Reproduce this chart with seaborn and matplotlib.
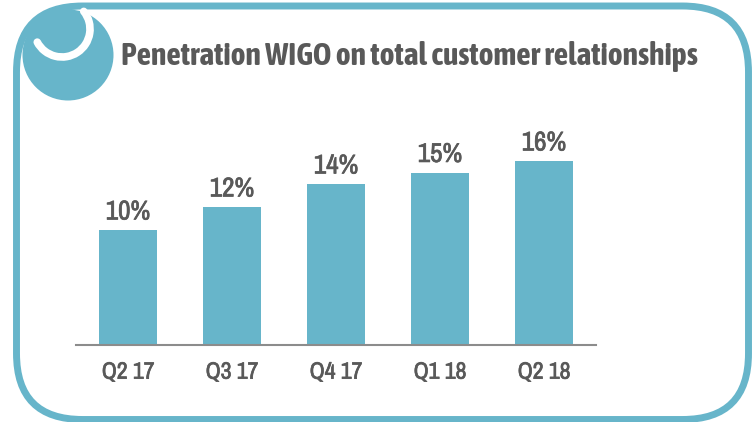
import pandas as pd
import matplotlib.pyplot as plt
import matplotlib.patheffects as pe
import seaborn as sns
from matplotlib.patches import Arc, Circle, FancyBboxPatch

quarters = ["Q2 17", "Q3 17", "Q4 17", "Q1 18", "Q2 18"]
penetration = [10, 12, 14, 15, 16]

TEAL = "#67b5ca"
GREY = "#595959"
W, H = 756, 422

sns.set_theme(style="white")
plt.rcParams["font.family"] = ["Archivo Narrow", "Liberation Sans", "DejaVu Sans"]

# slight thickening, the narrow font only has a regular weight
heavier = [pe.withStroke(linewidth=0.5, foreground=GREY)]

df = pd.DataFrame({"quarter": quarters, "penetration": penetration})

fig = plt.figure(figsize=(W / 100, H / 100), dpi=100, facecolor="white")

# background layer in pixel coordinates for the frame and the logo
bg = fig.add_axes([0, 0, 1, 1])
bg.set_xlim(0, W)
bg.set_ylim(H, 0)
bg.axis("off")
bg.add_patch(FancyBboxPatch((16.5, 6), 732, 413.5, boxstyle="round,pad=0,rounding_size=66",
                            fc="white", ec=TEAL, lw=5))
bg.add_patch(Circle((68, 55), 45.5, fc=TEAL, ec="none"))
bg.add_patch(Arc((62, 29), 56, 56, theta1=-39, theta2=152, ec="white", lw=5.5, capstyle="round"))
bg.text(121, 57, "Penetration WIGO on total customer relationships", color=GREY,
        fontsize=22.8, fontweight="bold", va="center", ha="left", family="Asap Condensed")

# bar chart
ax = fig.add_axes([76 / W, 1 - 345 / H, 520 / W, 230 / H])
ax.patch.set_alpha(0)
sns.barplot(data=df, x="quarter", y="penetration", color=TEAL, saturation=1, width=0.558,
            linewidth=0, ax=ax)
ax.set_xlim(-0.5, 4.5)
ax.set_ylim(0, 230 / 11.5)
ax.set_xlabel("")
ax.set_ylabel("")
ax.set_yticks([])
ax.tick_params(axis="x", length=0, pad=12, labelsize=17, labelcolor=GREY)
for lab in ax.get_xticklabels():
    lab.set_path_effects(heavier)
sns.despine(ax=ax, left=True)
ax.spines["bottom"].set_color("#8c8c8c")
ax.spines["bottom"].set_linewidth(1.5)

labels = ax.bar_label(ax.containers[0], labels=[f"{v}%" for v in penetration], padding=4,
                      fontsize=19.5, color=GREY)
for lab in labels:
    lab.set_path_effects(heavier)

fig.savefig("out.png", dpi=100)
